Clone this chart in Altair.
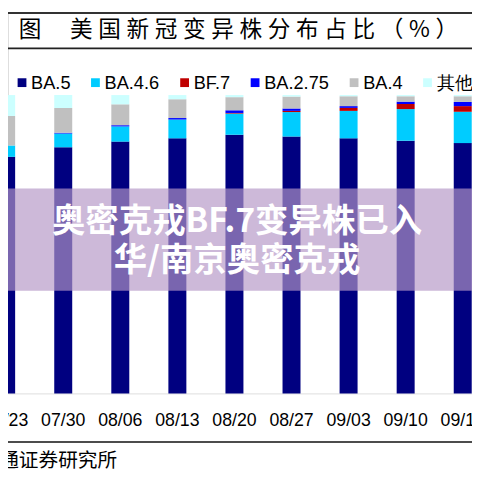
import altair as alt
import pandas as pd

# ---- data ----
dates = ["07/23", "07/30", "08/06", "08/13", "08/20", "08/27", "09/03", "09/10", "09/17"]
variants = ["BA.5", "BA.4.6", "BF.7", "BA.2.75", "BA.4", "其他"]
colors = ["#000080", "#00CCFF", "#C00000", "#0000FF", "#C0C0C0", "#CCFFFF"]
ba5 = [79.3, 82.5, 84.4, 85.5, 86.7, 86.1, 85.5, 84.7, 83.9]
ba46 = [3.8, 4.6, 5.1, 6.3, 7.1, 8.2, 9.2, 10.6, 10.5]
bf7 = [0.0, 0.0, 0.0, 0.0, 0.2, 0.4, 1.0, 1.7, 1.9]
ba275 = [0.0, 0.3, 0.4, 0.5, 0.9, 0.8, 0.6, 0.8, 1.4]
ba4 = [9.9, 8.3, 7.0, 6.3, 4.4, 4.0, 3.3, 1.8, 1.9]
other = [7.0, 4.3, 3.1, 1.4, 0.7, 0.5, 0.4, 0.4, 0.4]

title_fig = "图"
title_main = "\u2005".join(list("美国新冠变异株分布占比（%）"))
source_text = "海通证券研究所"
overlay_text = "奥密克戎BF.7变异株已入\n华/南京奥密克戎"

series = [ba5, ba46, bf7, ba275, ba4, other]
rows = []
for vi, (name, vals) in enumerate(zip(variants, series)):
    for d, v in zip(dates, vals):
        rows.append({"date": d, "variant": name, "value": v, "idx": vi})
df = pd.DataFrame(rows)

W, H = 472, 388
one = pd.DataFrame({"k": [0]})

bars = alt.Chart(df).mark_bar().encode(
    x=alt.X("date:N", sort=dates,
            scale=alt.Scale(domain=dates, range=[-30.9, 491.6],
                            paddingInner=0.685, paddingOuter=0.3425),
            axis=alt.Axis(title=None, labelAngle=0, ticks=False, domain=False,
                          labelFontSize=18, labelFont="Liberation Sans",
                          labelColor="#000000", labelPadding=19)),
    y=alt.Y("value:Q", stack="zero",
            scale=alt.Scale(domain=[0, 100], range=[H, 84.5], nice=False),
            axis=None),
    color=alt.Color("variant:N",
                    scale=alt.Scale(domain=variants, range=colors),
                    legend=alt.Legend(orient="none", legendX=5, legendY=62.5,
                                      direction="horizontal", columns=6,
                                      title=None, symbolType="square",
                                      symbolSize=80, symbolStrokeWidth=0,
                                      symbolOpacity=1,
                                      labelFontSize=18.5, labelFont="Liberation Sans",
                                      labelColor="#000000", labelOffset=0,
                                      columnPadding=15.7, padding=0)),
    order=alt.Order("idx:Q", sort="ascending"),
)

band = alt.Chart(one).mark_rect(color="#B496C7", opacity=0.67).encode(
    x=alt.value(0), x2=alt.value(W), y=alt.value(179.5), y2=alt.value(283.5)
)

overlay = alt.Chart(one).mark_text(
    text=overlay_text, lineBreak="\n", lineHeight=40, fontSize=34,
    fontWeight="bold", font="Noto Sans CJK SC", color="#FFFFFF",
    align="center", baseline="middle"
).encode(x=alt.value(233), y=alt.value(213.7))

top_line = alt.Chart(one).mark_rule(color="#333333", strokeWidth=2).encode(
    x=alt.value(0), x2=alt.value(W), y=alt.value(1))
mid_line = alt.Chart(one).mark_rule(color="#222222", strokeWidth=2).encode(
    x=alt.value(0), x2=alt.value(W), y=alt.value(37))
bot_line = alt.Chart(one).mark_rule(color="#111111", strokeWidth=1.5).encode(
    x=alt.value(0), x2=alt.value(W), y=alt.value(437.5))

t_fig = alt.Chart(one).mark_text(
    text=title_fig, fontSize=23, font="Noto Sans CJK SC", color="#000000",
    align="left", baseline="middle").encode(x=alt.value(11), y=alt.value(18))
t_main = alt.Chart(one).mark_text(
    text=title_main, fontSize=23, font="Noto Sans CJK SC", color="#000000",
    align="left", baseline="middle").encode(x=alt.value(63), y=alt.value(18))
t_src = alt.Chart(one).mark_text(
    text=source_text, fontSize=20, font="Noto Sans CJK SC", color="#000000",
    align="right", baseline="middle").encode(x=alt.value(111), y=alt.value(457))

chart = alt.layer(
    bars, band, overlay, top_line, mid_line, bot_line, t_fig, t_main, t_src
).properties(
    width=W, height=H,
    autosize=alt.AutoSizeParams(type="none"),
    padding={"left": 0, "top": 0, "right": 0, "bottom": 84},
).configure_view(strokeWidth=0).configure(background="#FFFFFF")

chart.save("out.html", embed_options={"renderer": "svg", "actions": False})
